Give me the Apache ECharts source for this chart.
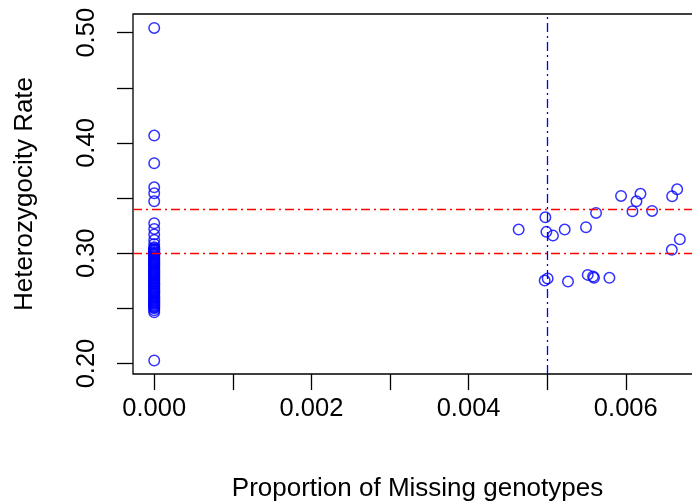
<!DOCTYPE html>
<html>
<head>
<meta charset="utf-8">
<script src="https://cdn.jsdelivr.net/npm/echarts@6/dist/echarts.min.js"></script>
<style>
  html, body { margin: 0; padding: 0; background: #fff; }
  #chart { width: 692px; height: 502px; }
</style>
</head>
<body>
<div id="chart"></div>
<script>
// samples with no missing genotypes (x = 0)
const zeroMissHet = [
  0.5044, 0.4067, 0.3816, 0.3598, 0.3544, 0.3471,
  0.3272, 0.3221, 0.3170, 0.3121, 0.3085,
  0.3054, 0.3046, 0.3037, 0.3031, 0.3022, 0.3012, 0.3005, 0.2996, 0.2990,
  0.2981, 0.2972, 0.2963, 0.2951, 0.2944, 0.2933, 0.2925, 0.2917, 0.2910,
  0.2901, 0.2894, 0.2882, 0.2870, 0.2863, 0.2852, 0.2844, 0.2838, 0.2831,
  0.2822, 0.2815, 0.2806, 0.2797, 0.2790, 0.2781, 0.2772, 0.2764, 0.2751,
  0.2745, 0.2733, 0.2726, 0.2719, 0.2712, 0.2703, 0.2690, 0.2684, 0.2673,
  0.2665, 0.2656, 0.2650, 0.2641, 0.2632, 0.2624, 0.2611, 0.2603, 0.2594,
  0.2585, 0.2577, 0.2572, 0.2563, 0.2555, 0.2548, 0.2541, 0.2532, 0.2524,
  0.2517, 0.2509, 0.2501, 0.2483, 0.2465, 0.2027
];

// samples with some missing genotypes
const missX = [
  0.004637, 0.004977, 0.004990, 0.005074, 0.005223, 0.005494, 0.005622,
  0.005940, 0.006187, 0.006136, 0.006085, 0.006335, 0.006590, 0.006654,
  0.006688, 0.006586, 0.004968, 0.005006, 0.005265, 0.005516, 0.005584,
  0.005596, 0.005792
];
const missHet = [
  0.3215, 0.3326, 0.3194, 0.3160, 0.3215, 0.3236, 0.3366,
  0.3520, 0.3539, 0.3471, 0.3381, 0.3384, 0.3517, 0.3580,
  0.3127, 0.3031, 0.2752, 0.2771, 0.2743, 0.2804, 0.2789,
  0.2777, 0.2777
];

const hetCutoffs = [0.30, 0.34];
const missCutoff = 0.005;

const xTicks = [0, 0.001, 0.002, 0.003, 0.004, 0.005, 0.006];
const xLabels = [0, 0.002, 0.004, 0.006];
const yTicks = [0.20, 0.25, 0.30, 0.35, 0.40, 0.45, 0.50];
const yLabels = [0.20, 0.30, 0.40, 0.50];

const points = zeroMissHet.map(v => [0, v])
  .concat(missX.map((x, i) => [x, missHet[i]]));

const font = 'Liberation Sans, Arial, sans-serif';
const dashDot = [9, 4, 2, 4];
const yMin = 0.1905, yMax = 0.5170;

const chart = echarts.init(document.getElementById('chart'));
chart.setOption({
  animation: false,
  backgroundColor: '#fff',
  grid: {
    left: 133, top: 14, right: -10, bottom: 128,
    outerBoundsMode: 'none',
    containLabel: false,
    show: true,
    borderColor: '#000',
    borderWidth: 1.3,
    backgroundColor: 'transparent'
  },
  xAxis: {
    type: 'value',
    min: -0.00027,
    max: 0.00697,
    name: 'Proportion of Missing genotypes',
    nameLocation: 'middle',
    nameGap: 102,
    nameTextStyle: { color: '#000', fontFamily: font, fontSize: 26 },
    splitLine: { show: false },
    axisLine: { show: false, onZero: false },
    axisTick: {
      show: true, inside: false, length: 16,
      customValues: xTicks,
      lineStyle: { color: '#000', width: 1.3 }
    },
    axisLabel: {
      customValues: xLabels,
      margin: 22,
      color: '#000', fontFamily: font, fontSize: 25.5,
      formatter: v => v.toFixed(3)
    }
  },
  yAxis: {
    type: 'value',
    min: yMin,
    max: yMax,
    name: 'Heterozygocity Rate',
    nameLocation: 'middle',
    nameGap: 95,
    nameTextStyle: { color: '#000', fontFamily: font, fontSize: 26 },
    splitLine: { show: false },
    axisLine: { show: false, onZero: false },
    axisTick: {
      show: true, inside: false, length: 16,
      customValues: yTicks,
      lineStyle: { color: '#000', width: 1.3 }
    },
    axisLabel: {
      customValues: yLabels,
      rotate: 90,
      margin: 33,
      color: '#000', fontFamily: font, fontSize: 25.5,
      formatter: v => v.toFixed(2)
    }
  },
  series: [
    {
      type: 'scatter',
      data: points,
      symbol: 'circle',
      symbolSize: 10.5,
      itemStyle: { color: 'rgba(0,0,0,0)', borderColor: '#0000ff', borderWidth: 1.5 },
      markLine: {
        silent: true,
        symbol: 'none',
        label: { show: false },
        data: hetCutoffs.map(v => ({
          yAxis: v,
          lineStyle: { color: '#ff0000', width: 1.3, type: dashDot }
        })).concat([[
          { coord: [missCutoff, yMin], lineStyle: { color: '#0000ff', width: 1.3, type: dashDot } },
          { coord: [missCutoff, yMax] }
        ]])
      }
    }
  ]
});
</script>
</body>
</html>
